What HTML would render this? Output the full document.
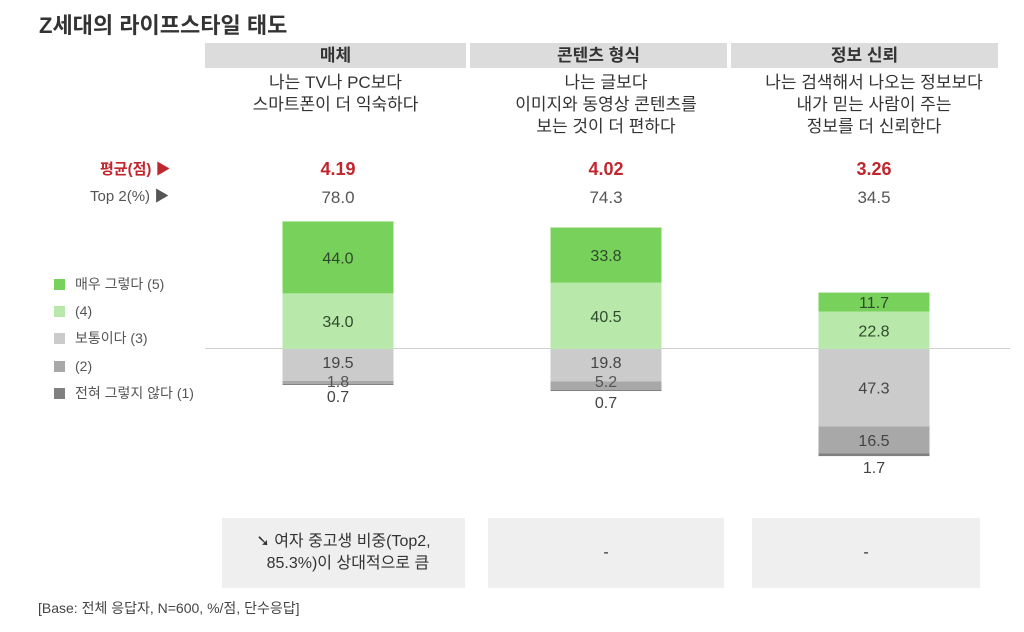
<!DOCTYPE html>
<html><head><meta charset="utf-8">
<style>
body{margin:0;width:1024px;height:632px;background:#fff;font-family:"Liberation Sans","Noto Sans CJK KR",sans-serif;overflow:hidden;position:relative;color:#444}
.abs{position:absolute}
.hdr{position:absolute;top:43px;height:25px;background:#dcdcdc;font-weight:bold;font-size:17px;text-align:center;line-height:25px;color:#333}
.q{position:absolute;top:72px;text-align:center;font-size:17px;line-height:22px;color:#333}
.leg{position:absolute;left:54px;font-size:14px;color:#555;line-height:16px}
.leg span{display:inline-block;width:11px;height:11px;margin-right:10px;vertical-align:-1px}
.box{position:absolute;top:518px;height:70px;background:#efefef;font-size:16px;color:#333;text-align:center;display:flex;align-items:center;justify-content:center}
</style></head><body>
<div class="abs" style="left:39px;top:8px;font-size:22px;font-weight:bold;color:#333">Z세대의 라이프스타일 태도</div>
<div class="hdr" style="left:205px;width:261px">매체</div>
<div class="hdr" style="left:470px;width:257px">콘텐츠 형식</div>
<div class="hdr" style="left:731px;width:267px">정보 신뢰</div>
<div class="q" style="left:205px;width:261px">나는 TV나 PC보다<br>스마트폰이 더 익숙하다</div>
<div class="q" style="left:470px;width:272px">나는 글보다<br>이미지와 동영상 콘텐츠를<br>보는 것이 더 편하다</div>
<div class="q" style="left:731px;width:286px">나는 검색해서 나오는 정보보다<br>내가 믿는 사람이 주는<br>정보를 더 신뢰한다</div>
<div class="abs" style="left:100px;top:158px;font-size:15px;font-weight:bold;color:#c0262d">평균(점) ▶</div>
<div class="abs" style="left:90px;top:185px;font-size:15px;color:#555">Top 2(%) ▶</div>
<div class="leg" style="top:276px"><span style="background:#77d15a"></span>매우 그렇다 (5)</div>
<div class="leg" style="top:303px"><span style="background:#b9e8ab"></span>(4)</div>
<div class="leg" style="top:330px"><span style="background:#cbcbcb"></span>보통이다 (3)</div>
<div class="leg" style="top:358px"><span style="background:#a8a8a8"></span>(2)</div>
<div class="leg" style="top:385px"><span style="background:#808080"></span>전혀 그렇지 않다 (1)</div>
<div class="abs" style="left:205px;top:348px;width:805px;height:1px;background:#cfcfcf"></div>
<svg id="chart" class="abs" style="left:0;top:0" width="1024" height="632"></svg>
<div class="box" style="left:222px;width:243px;line-height:22px">➘ 여자 중고생 비중(Top2,<br>&nbsp;&nbsp;85.3%)이 상대적으로 큼</div>
<div class="box" style="left:488px;width:236px">-</div>
<div class="box" style="left:752px;width:228px">-</div>
<div class="abs" style="left:38px;top:598px;font-size:14px;color:#444">[Base: 전체 응답자, N=600, %/점, 단수응답]</div>
<script>
const categories=["매체","콘텐츠 형식","정보 신뢰"];
const s5=[44.0,33.8,11.7];
const s4=[34.0,40.5,22.8];
const s3=[19.5,19.8,47.3];
const s2=[1.8,5.2,16.5];
const s1=[0.7,0.7,1.7];
const avg=["4.19","4.02","3.26"];
const top2=["78.0","74.3","34.5"];
const NS="http://www.w3.org/2000/svg";
const svg=document.getElementById('chart');
const base=349, k=1.635, bw=111;
const cx=i=>338+i*268;
const y=v=>base-v*k;
function txt(x,yy,s,fill,size,weight,name){const t=document.createElementNS(NS,'text');t.setAttribute('x',x);t.setAttribute('y',yy);t.setAttribute('text-anchor','middle');t.setAttribute('font-size',size);t.setAttribute('fill',fill);if(weight)t.setAttribute('font-weight',weight);t.textContent=s;


svg.appendChild(t);}
function rect(x,y0,h,fill,name){const r=document.createElementNS(NS,'rect');r.setAttribute('x',x);r.setAttribute('y',y0);r.setAttribute('width',bw);r.setAttribute('height',Math.max(h,0));r.setAttribute('fill',fill);


svg.appendChild(r);}
categories.forEach((c,i)=>{
  const x=cx(i)-bw/2;
  rect(x,y(s4[i]+s5[i]),s5[i]*k,'#77d15a','bar-5');
  rect(x,y(s4[i]),s4[i]*k,'#b9e8ab','bar-4');
  rect(x,base,s3[i]*k,'#cbcbcb','bar-3');
  rect(x,base+s3[i]*k,s2[i]*k,'#a8a8a8','bar-2');
  rect(x,base+(s3[i]+s2[i])*k,s1[i]*k,'#808080','bar-1');
  txt(cx(i),y(s4[i]+s5[i]/2)+6,s5[i].toFixed(1),'#2f4a2a',16,null,'label-5');
  txt(cx(i),y(s4[i]/2)+6,s4[i].toFixed(1),'#2f4a2a',16,null,'label-4');
  const b3=base+s3[i]*k, b2=b3+s2[i]*k, b1=b2+s1[i]*k;
  if(s3[i]>30){
    txt(cx(i),base+s3[i]*k/2+6,s3[i].toFixed(1),'#444',16,null,'label-3');
    txt(cx(i),b3+s2[i]*k/2+6,s2[i].toFixed(1),'#444',16,null,'label-2');
  } else {
    txt(cx(i),base+19,s3[i].toFixed(1),'#444',16,null,'label-3');
    txt(cx(i),base+38,s2[i].toFixed(1),'#555',16,null,'label-2');
  }
  txt(cx(i),b1+17,s1[i].toFixed(1),'#444',16,null,'label-1');
  txt(cx(i),175,avg[i],'#c0262d',18,'bold','avg-value');
  txt(cx(i),203,top2[i],'#555',17,null,'top2-value');
});
</script>
</body></html>
